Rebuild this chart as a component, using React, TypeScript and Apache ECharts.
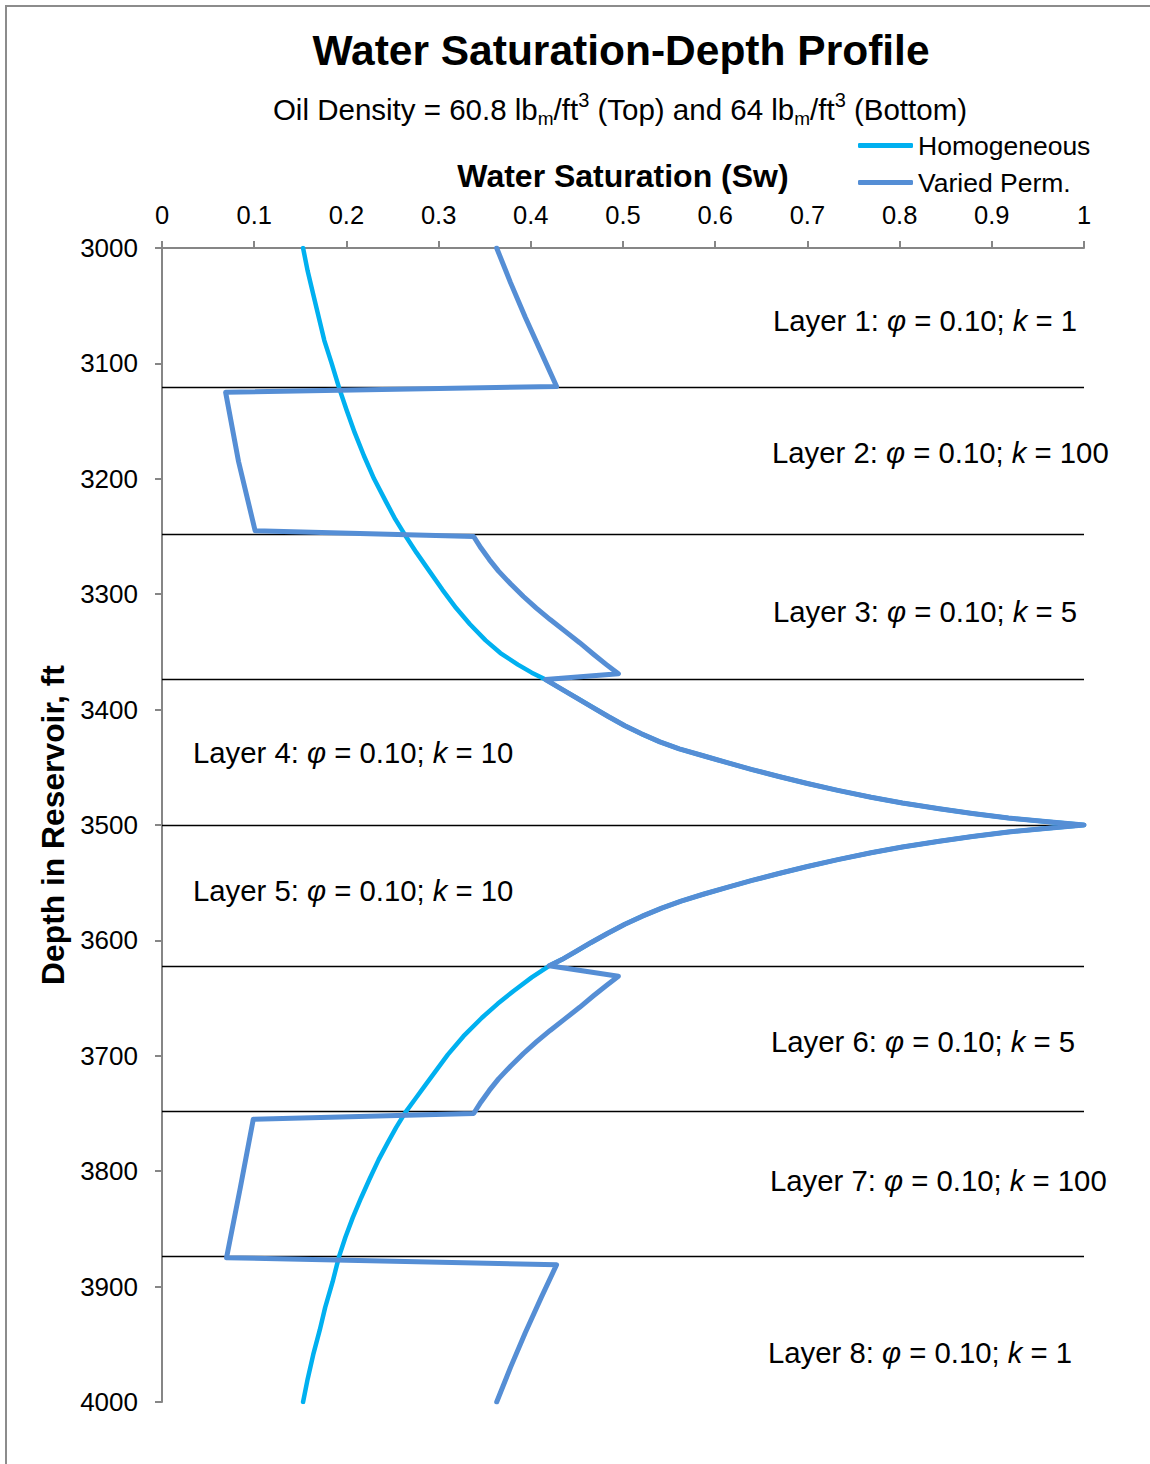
import React, { useEffect, useRef } from "react";
import * as echarts from "echarts";

const FONT = '"Liberation Sans", Arial, Helvetica, sans-serif';

// Homogeneous profile above layer 4 (depth ft, water saturation)
const homTopDepth = [
  3000, 3020, 3040, 3060, 3080, 3100, 3121, 3140, 3160, 3180, 3200, 3220, 3235, 3248,
  3264, 3280, 3296, 3312, 3326, 3340, 3351, 3361, 3368,
];
const homTopSw = [
  0.153, 0.158, 0.164, 0.17, 0.176, 0.184, 0.192, 0.2, 0.209, 0.219, 0.23, 0.243, 0.253, 0.263,
  0.276, 0.29, 0.304, 0.319, 0.334, 0.351, 0.367, 0.386, 0.401,
];

// Layers 4 and 5 (both profiles share this curve)
const peakDepth = [
  3374, 3382, 3390, 3398, 3406, 3414, 3421, 3428, 3434, 3440, 3446, 3452, 3458, 3464, 3470, 3476,
  3481, 3486, 3490, 3494, 3497, 3500,
  3503, 3506, 3510, 3514, 3519, 3524, 3530, 3536, 3542, 3548, 3554, 3560, 3566, 3572, 3579, 3586,
  3594, 3602, 3610, 3616, 3622,
];
const peakSw = [
  0.416, 0.433, 0.45, 0.467, 0.484, 0.502, 0.52, 0.54, 0.561, 0.587, 0.613, 0.64, 0.669, 0.7, 0.733, 0.769,
  0.803, 0.843, 0.879, 0.918, 0.958, 1.0,
  0.958, 0.918, 0.879, 0.843, 0.803, 0.769, 0.733, 0.7, 0.669, 0.64, 0.613, 0.587, 0.563, 0.542, 0.521, 0.502,
  0.483, 0.465, 0.448, 0.435, 0.42,
];

// Homogeneous profile below layer 5
const homBotDepth = [
  3632, 3644, 3655, 3667, 3683, 3699, 3712, 3725, 3737, 3749, 3762, 3775, 3790, 3807, 3823, 3840,
  3857, 3874, 3896, 3918, 3938, 3959, 3980, 4000,
];
const homBotSw = [
  0.401, 0.381, 0.364, 0.347, 0.327, 0.31, 0.298, 0.286, 0.275, 0.264, 0.254, 0.245, 0.235, 0.225, 0.216, 0.207,
  0.199, 0.192, 0.185, 0.177, 0.171, 0.164, 0.158, 0.153,
];

// Varied permeability profile, layers 1-3
const varTopDepth = [
  3000, 3030, 3060, 3090, 3120,
  3125, 3185, 3245,
  3250, 3260, 3270, 3280, 3291, 3302, 3312, 3322, 3332, 3342, 3352, 3361, 3369,
];
const varTopSw = [
  0.363, 0.378, 0.394, 0.411, 0.428,
  0.069, 0.083, 0.101,
  0.338, 0.346, 0.355, 0.365, 0.378, 0.392, 0.406, 0.421, 0.437, 0.453, 0.468, 0.482, 0.495,
];

// Varied permeability profile, layers 6-8
const varBotDepth = [
  3631, 3639, 3648, 3658, 3668, 3678, 3688, 3698, 3709, 3720, 3730, 3740, 3750,
  3755, 3814, 3875,
  3881, 3910, 3940, 3970, 4000,
];
const varBotSw = [
  0.495, 0.482, 0.468, 0.453, 0.437, 0.421, 0.406, 0.392, 0.378, 0.365, 0.355, 0.346, 0.338,
  0.099, 0.085, 0.07,
  0.428, 0.411, 0.394, 0.378, 0.363,
];

const layerBounds = [3121, 3248, 3374, 3500, 3622, 3748, 3874];
const layerNames = ["Layer 1", "Layer 2", "Layer 3", "Layer 4", "Layer 5", "Layer 6", "Layer 7", "Layer 8"];
const layerPhi = ["0.10", "0.10", "0.10", "0.10", "0.10", "0.10", "0.10", "0.10"];
const layerK = ["1", "100", "5", "10", "10", "5", "100", "1"];
const seriesNames = ["Homogeneous", "Varied Perm."];

// label layout (pixels)
const layerLabelPos = [
  [773, 320], [772, 452], [773, 611], [193, 752], [193, 890], [771, 1041], [770, 1180], [768, 1352],
];

const pairs = (depths: number[], sws: number[]) => depths.map((d, i) => [sws[i], d]);

export default function App() {
  const ref = useRef<HTMLDivElement>(null);
  useEffect(() => {
    document.body.style.margin = "0";
    if (!ref.current) return;
    const chart = echarts.init(ref.current, null, { renderer: "svg" });
    const peak = pairs(peakDepth, peakSw);
    const hom = [...pairs(homTopDepth, homTopSw), ...peak, ...pairs(homBotDepth, homBotSw)];
    const varied = [...pairs(varTopDepth, varTopSw), ...peak, ...pairs(varBotDepth, varBotSw)];
    const layerRich = {
      n: { fontFamily: FONT, fontSize: 29.3, color: "#000" },
      i: { fontFamily: FONT, fontSize: 29.3, fontStyle: "italic", color: "#000" },
    };
    const layerTexts = layerNames.map((nm, i) => ({
      type: "text",
      x: layerLabelPos[i][0],
      y: layerLabelPos[i][1],
      style: {
        text: `{n|${nm}: }{i|φ}{n| = ${layerPhi[i]}; }{i|k}{n| = ${layerK[i]}}`,
        rich: layerRich,
        align: "left",
        verticalAlign: "middle",
      },
    }));
    const subRich = {
      n: { fontFamily: FONT, fontSize: 29.5, color: "#000", lineHeight: 38 },
      sub: { fontFamily: FONT, fontSize: 19, color: "#000", lineHeight: 19, verticalAlign: "bottom" },
      sup: { fontFamily: FONT, fontSize: 20, color: "#000", lineHeight: 22, verticalAlign: "top" },
    };
    const option = {
      animation: false,
      backgroundColor: "#fff",
      textStyle: { fontFamily: FONT },
      grid: { left: 162, top: 248, width: 922, height: 1154 },
      legend: {
        data: seriesNames,
        orient: "vertical",
        left: 858,
        top: 132,
        padding: 0,
        itemWidth: 55,
        itemHeight: 5,
        itemGap: 10,
        icon: "roundRect",
        textStyle: { fontFamily: FONT, fontSize: 26.5, color: "#000" },
      },
      xAxis: {
        type: "value",
        position: "top",
        min: 0,
        max: 1,
        interval: 0.1,
        name: "Water Saturation (Sw)",
        nameLocation: "middle",
        nameGap: 56,
        nameTextStyle: { fontFamily: FONT, fontSize: 32, fontWeight: "bold", color: "#000" },
        axisLine: { show: true, lineStyle: { color: "#868686", width: 2 } },
        axisTick: { show: true, inside: false, length: 7, lineStyle: { color: "#868686", width: 2 } },
        axisLabel: { fontFamily: FONT, fontSize: 25.5, color: "#000", margin: 20 },
        splitLine: { show: false },
      },
      yAxis: {
        type: "value",
        inverse: true,
        min: 3000,
        max: 4000,
        interval: 100,
        name: "Depth in Reservoir, ft",
        nameLocation: "middle",
        nameGap: 91,
        nameRotate: 90,
        nameTextStyle: { fontFamily: FONT, fontSize: 31.8, fontWeight: "bold", color: "#000" },
        axisLine: { show: true, lineStyle: { color: "#868686", width: 2 } },
        axisTick: { show: true, inside: false, length: 7, lineStyle: { color: "#868686", width: 2 } },
        axisLabel: {
          fontFamily: FONT,
          fontSize: 26,
          color: "#000",
          margin: 24,
          formatter: (v: number) => String(v),
        },
        splitLine: { show: false },
      },
      series: [
        {
          name: "Layers",
          type: "line",
          data: [],
          silent: true,
          z: 1,
          markLine: {
            silent: true,
            z: 1,
            symbol: ["none", "none"],
            label: { show: false },
            lineStyle: { color: "#000", width: 1.3, type: "solid" },
            data: layerBounds.map((b) => ({ yAxis: b })),
          },
        },
        {
          name: seriesNames[0],
          type: "line",
          data: hom,
          showSymbol: false,
          symbol: "none",
          z: 3,
          color: "#00B0F0",
          lineStyle: { color: "#00B0F0", width: 4.5, cap: "round", join: "round" },
        },
        {
          name: seriesNames[1],
          type: "line",
          data: varied,
          showSymbol: false,
          symbol: "none",
          z: 4,
          color: "#558ED5",
          lineStyle: { color: "#558ED5", width: 5, cap: "round", join: "round" },
        },
      ],
      graphic: [
        {
          type: "rect",
          shape: { x: 6, y: 6, width: 1300, height: 1600 },
          style: { fill: "none", stroke: "#8c8c8c", lineWidth: 2 },
          silent: true,
        },
        {
          type: "text",
          x: 621,
          y: 50,
          style: {
            text: "Water Saturation-Depth Profile",
            fontFamily: FONT,
            fontSize: 42.5,
            fontWeight: "bold",
            fill: "#000",
            align: "center",
            verticalAlign: "middle",
          },
        },
        {
          type: "text",
          x: 620,
          y: 109,
          style: {
            text: "{n|Oil Density = 60.8 lb}{sub|m}{n|/ft}{sup|3}{n| (Top) and 64 lb}{sub|m}{n|/ft}{sup|3}{n| (Bottom)}",
            rich: subRich,
            align: "center",
            verticalAlign: "middle",
          },
        },
        ...layerTexts,
      ],
    };
    chart.setOption(option as any);
    return () => chart.dispose();
  }, []);
  return <div ref={ref} style={{ width: 1150, height: 1464 }} />;
}
